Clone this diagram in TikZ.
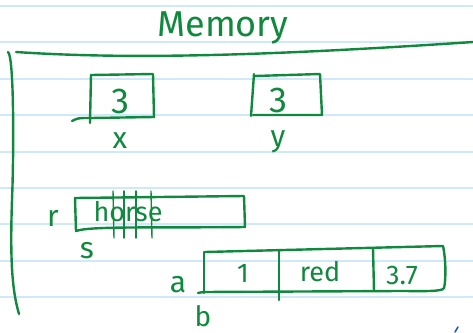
\documentclass[tikz,border=0pt]{standalone}
\usepackage{fontspec}
\setmainfont{Fira Sans}
\definecolor{ink}{RGB}{16,137,62}
\definecolor{rule}{RGB}{208,233,250}
\definecolor{blueink}{RGB}{40,90,190}
\begin{document}
\begin{tikzpicture}[x=1pt,y=-1pt,
  pen/.style={draw=ink, line width=2.4pt, line cap=round, line join=round},
  ruled/.style={draw=rule, line width=1.6pt},
  hand/.style={text=ink, inner sep=0pt, anchor=base},
  big/.style={hand, font=\fontsize{36}{36}\selectfont},
  mid/.style={hand, font=\fontsize{30}{30}\selectfont},
  small/.style={hand, font=\fontsize{27}{27}\selectfont},
]
\useasboundingbox (0,0) rectangle (473,332);
\fill[white] (0,0) rectangle (473,332);
% ruled notebook paper
\foreach \yy in {6,42,79,115,152,188,224,261,297}
  \draw[ruled] (0,\yy) -- (473,\yy);

% heading and the frame of the memory area
\node[big] (title) at (223,36) {Memory};
\draw[pen] (16,52) .. controls (120,59) and (250,57) .. (473,42);
\draw[pen] (8,52) .. controls (14,56) and (14,150) .. (12,200)
  .. controls (10,260) and (12,290) .. (19,314);

% variable x
\draw[pen] (91,75) -- (153,74) -- (154,117) -- (91,118);
\draw[pen] (91,75) -- (90,123);
\draw[pen] (72,121) .. controls (78,118) .. (90,118);
\node[big] (xval) at (120,113) {3};
\node[mid] (xname) at (120,148) {x};

% variable y
\draw[pen] (255,76) -- (320,74) -- (322,115) -- (253,115);
\draw[pen] (254,74) -- (251,116);
\node[big] (yval) at (278,112) {3};
\node[mid] (yname) at (278,146) {y};

% string r / s
\draw[pen] (75,198) -- (244,196) -- (245,227) .. controls (150,228) and (90,226) .. (76,231) -- cycle;
\foreach \xa/\xb in {113/114,124/124,136/136,151/152}
  \draw[pen, line width=1.4pt] (\xa,191) -- (\xb,238);
\node[small] (str) at (128,221) {horse};
\node[mid] (rname) at (53,226) {r};
\node[mid] (sname) at (87,258) {s};

% list a / b
\draw[pen] (205,252) -- (443,246) .. controls (446,260) and (446,280) .. (444,288)
  .. controls (443,292) and (420,291) .. (400,291) -- (203,292);
\draw[pen] (204,252) -- (204,293);
\draw[pen] (203,292) -- (198,293);
\draw[pen] (279,251) -- (279,300);
\draw[pen] (373,248) -- (374,291);
\node[small] (e1) at (243,282) {1};
\node[small] (e2) at (320,281) {red};
\node[small] (e3) at (402,284) {3.7};
\node[mid] (aname) at (178,292) {a};
\node[mid, font=\fontsize{28}{28}\selectfont] (bname) at (203,326) {b};

% stray pen mark
\draw[blueink, line width=1.6pt, line cap=round] (455,332) -- (458,327);
\end{tikzpicture}
\end{document}
